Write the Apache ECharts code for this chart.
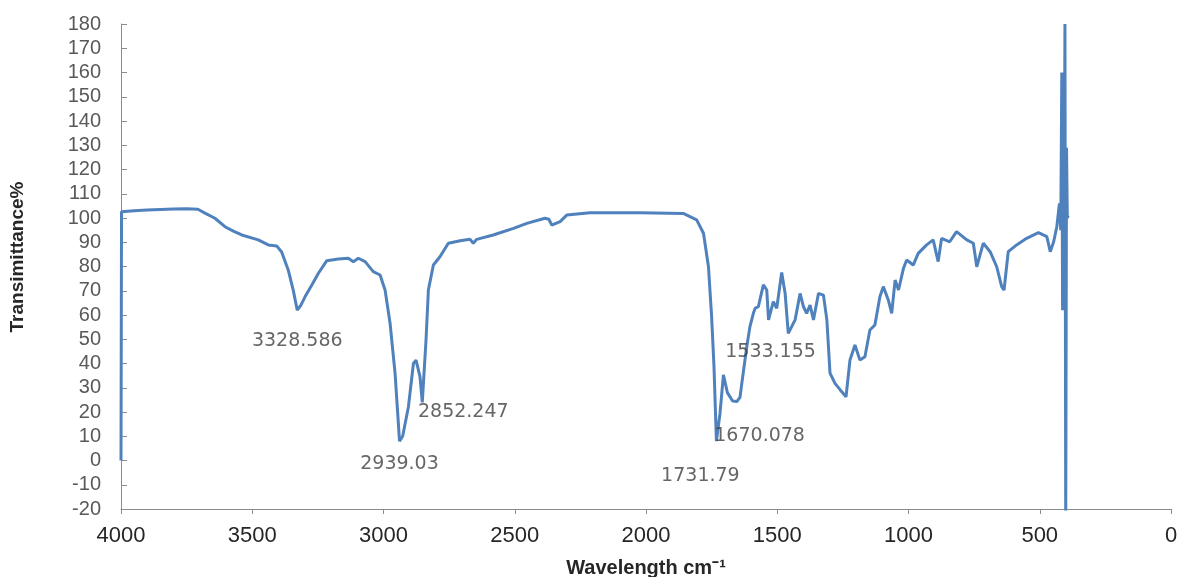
<!DOCTYPE html>
<html>
<head>
<meta charset="utf-8">
<script src="https://cdn.jsdelivr.net/npm/echarts@6/dist/echarts.min.js"></script>
<style>
html,body{margin:0;padding:0;background:#fff;}
#chart{width:1181px;height:577px;}
</style>
</head>
<body>
<div id="chart"></div>
<script>
// Spectrum: wavenumber (cm-1) and transmittance (%)
const wavenumbers = [4000,3998,3950,3900,3850,3800,3750,3707,3680,3642,3604,3570,3540,3477,3439,3407,3388,3363,3344,3328.586,3315,3299,3273,3248,3216,3172,3134,3115,3096,3070,3039,3013,2994,2975,2956,2945,2939.03,2927,2905,2886,2876,2861,2852.247,2838,2829,2810,2785,2753,2708,2670,2658,2645,2582,2505,2454,2385,2370,2359,2327,2302,2213,2023,1858,1807,1781,1762,1750,1741,1731.79,1718,1705,1690,1670.078,1654,1642,1635,1616,1604,1591,1584,1572,1553,1540,1533.155,1515,1502,1483,1470,1458,1445,1432,1413,1400,1388,1375,1362,1343,1324,1311,1299,1280,1260,1238,1223,1204,1185,1166,1147,1128,1109,1096,1077,1064,1051,1038,1019,1007,982,963,931,906,887,874,843,817,810,778,753,740,715,689,664,645,636,620,588,550,505,473,460,447,435,425,420,416,413,410,407,404,401,398,395,392];
const transmittance = [0,102.6,103.0,103.3,103.5,103.7,103.8,103.6,102,99.9,96.4,94.5,93,91,88.9,88.5,86,78.6,70.3,62,64,67.5,72.4,77.2,82.4,83.1,83.4,82,83.4,82,77.9,76.5,70.3,56.6,36,18,8,10,22.2,40,41.4,34.6,24,49.7,70.3,80.6,84,89.6,90.6,91.2,89.6,91.2,93,95.7,97.8,99.9,99.5,97.1,98.5,101.2,102.2,102.2,101.9,99.2,93.7,79.9,59.3,38.7,8,19.5,35.3,28,24.5,24.3,26,31.8,47,55.2,60.7,62.8,63.4,72.4,70.3,58,65.5,62.8,77.5,68.9,52.4,55.2,58,68.9,63.4,60.7,64.1,58,68.9,68.2,58,36,31.8,29.1,26.3,41.4,47.6,41.4,42.8,53.8,55.9,67.5,71.7,66.2,60.7,74.4,70.3,79.3,82.7,80.6,85.4,88.9,91,82,91.6,90.2,94.4,95,91,89.6,79.9,89.6,86.1,79.9,71.7,70.3,86.1,88.9,91.6,94,92.3,86.1,90.2,96.4,106,95,160,62,150,95,180,-30,129,100,101];

// Annotated peaks
const peakWavenumbers = [3328.586, 2939.03, 2852.247, 1731.79, 1670.078, 1533.155];
const peakValues = [62, 8, 24, 8, 24.5, 58];
const peakLabels = ['3328.586', '2939.03', '2852.247', '1731.79', '1670.078', '1533.155'];

// Axis ticks
const xTicks = {min: 0, max: 4000, interval: 500};
const yTicks = {min: -20, max: 180, interval: 10};

// Label pixel offsets (style)
const labelOffsets = [[0,31],[0,23],[41,10],[-16,35],[27,35],[2,32]];

const chart = echarts.init(document.getElementById('chart'));
const lineData = wavenumbers.map((w, i) => [w, transmittance[i]]);
const peakData = peakWavenumbers.map((w, i) => ({
  value: [w, peakValues[i]],
  name: peakLabels[i],
  label: {offset: labelOffsets[i]}
}));

chart.setOption({
  animation: false,
  backgroundColor: '#ffffff',
  grid: {left: 121, right: 10, top: 24, bottom: 68, containLabel: false, outerBoundsMode: 'none'},
  xAxis: {
    type: 'value', inverse: true,
    min: xTicks.min, max: xTicks.max, interval: xTicks.interval,
    splitLine: {show: false},
    axisLine: {show: true, onZero: false, lineStyle: {color: '#8c8c8c', width: 1}},
    axisTick: {show: true, inside: false, length: 5, lineStyle: {color: '#8c8c8c'}},
    axisLabel: {fontFamily: 'Liberation Sans', fontSize: 22, color: '#262626', margin: 16,
      formatter: v => String(v)},
    name: 'Wavelength cm\u207B\u00B9',
    nameLocation: 'middle', nameGap: 49,
    nameTextStyle: {fontFamily: 'Liberation Sans', fontWeight: 'bold', fontSize: 20, color: '#262626'}
  },
  yAxis: {
    type: 'value',
    min: yTicks.min, max: yTicks.max, interval: yTicks.interval,
    splitLine: {show: false},
    axisLine: {show: true, onZero: false, lineStyle: {color: '#8c8c8c', width: 1}},
    axisTick: {show: true, inside: true, length: 6, lineStyle: {color: '#8c8c8c'}},
    axisLabel: {fontFamily: 'Liberation Sans', fontSize: 20, color: '#595959', margin: 20,
      formatter: v => String(v)}
  },
  graphic: [{
    type: 'text',
    x: 18, y: 257,
    rotation: Math.PI / 2,
    style: {
      text: 'Transimittance%', fontFamily: 'Liberation Sans', fontWeight: 'bold',
      fontSize: 19, fill: '#262626', align: 'center', verticalAlign: 'middle'
    }
  }],
  series: [{
    type: 'line', data: lineData, showSymbol: false, symbol: 'none',
    lineStyle: {color: '#4F81BD', width: 3}, clip: true, z: 2
  }, {
    type: 'scatter', data: peakData, symbolSize: 0, z: 3,
    label: {
      show: true, position: 'inside', formatter: p => p.name,
      fontFamily: 'DejaVu Sans', fontSize: 19, color: '#404040'
    }
  }]
});
</script>
</body>
</html>
